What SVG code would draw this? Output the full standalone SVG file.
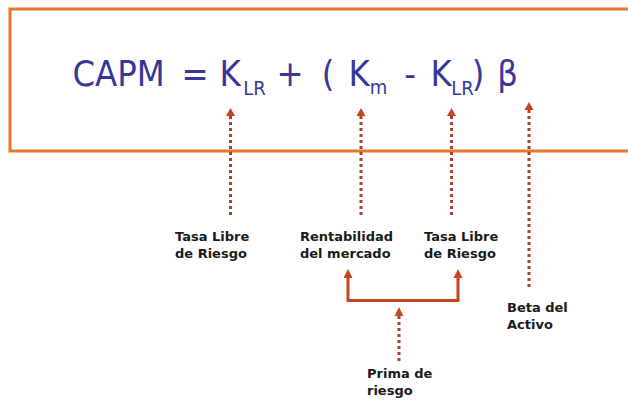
<svg xmlns="http://www.w3.org/2000/svg" width="628" height="404" viewBox="0 0 628 404">
<style>
.f{font-family:"DejaVu Sans Condensed","DejaVu Sans",sans-serif;font-stretch:condensed;fill:#35389a;text-anchor:middle}
.big{font-size:36px}
.sub{font-size:20px}
.lbl{font-family:"DejaVu Sans","Liberation Sans",sans-serif;font-weight:bold;font-size:13px;fill:#1a1a1a}
.dot{stroke:#a8402e;stroke-width:3;stroke-dasharray:3 3;fill:none}
.solid{stroke:#c4461f;stroke-width:3;fill:none}
.head{fill:#c4461f}
</style>
<rect x="10" y="9" width="640" height="142" fill="#fff" stroke="#e8772b" stroke-width="3"/>
<g id="formula">
<text class="f big" x="118.5" y="86">CAPM</text>
<text class="f big" x="195" y="86">=</text>
<text class="f big" x="230" y="86">K</text>
<text class="f sub" x="254.5" y="95">LR</text>
<text class="f big" x="290" y="86">+</text>
<text class="f big" x="328" y="86">(</text>
<text class="f big" x="359" y="86">K</text>
<text class="f sub" x="378.5" y="94">m</text>
<text class="f big" x="410" y="86">-</text>
<text class="f big" x="441" y="86">K</text>
<text class="f sub" x="462.5" y="95">LR</text>
<text class="f big" x="478" y="86">)</text>
<text class="f big" x="507.5" y="86">β</text>
</g>
<g id="connectors">
<line class="dot" x1="230.5" y1="116" x2="230.5" y2="217"/>
<polygon class="head" points="230.5,108 226,116 235,116"/>
<line class="dot" x1="361" y1="116" x2="361" y2="217"/>
<polygon class="head" points="361,108 356.5,116 365.5,116"/>
<line class="dot" x1="451.5" y1="116" x2="451.5" y2="217"/>
<polygon class="head" points="451.5,108 447,116 456,116"/>
<line class="dot" x1="529" y1="110" x2="529" y2="290"/>
<polygon class="head" points="529,102 524.5,110 533.5,110"/>
<polyline class="solid" points="348,277 348,300.5 458,300.5 458,277"/>
<polygon class="head" points="348,269 343.5,278 352.5,278"/>
<polygon class="head" points="458,269 453.5,278 462.5,278"/>
<line class="dot" x1="399" y1="316" x2="399" y2="363"/>
<polygon class="head" points="399,307 394.5,316 403.5,316"/>
</g>
<g id="label-tasa1"><text class="lbl" x="175" y="241">Tasa Libre</text><text class="lbl" x="175" y="258">de Riesgo</text></g>
<g id="label-rent"><text class="lbl" x="300" y="241">Rentabilidad</text><text class="lbl" x="300" y="258">del mercado</text></g>
<g id="label-tasa2"><text class="lbl" x="424" y="241">Tasa Libre</text><text class="lbl" x="424" y="258">de Riesgo</text></g>
<g id="label-beta"><text class="lbl" x="507" y="312">Beta del</text><text class="lbl" x="507" y="329">Activo</text></g>
<g id="label-prima"><text class="lbl" x="367" y="378">Prima de</text><text class="lbl" x="367" y="395">riesgo</text></g>
</svg>
